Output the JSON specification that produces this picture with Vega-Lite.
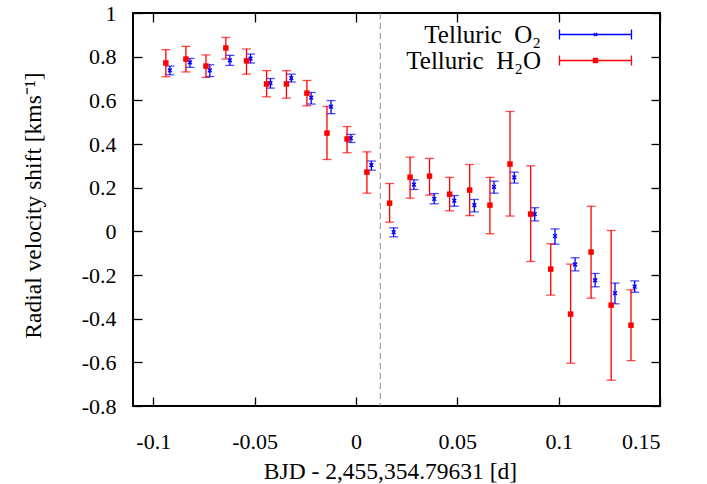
{
  "$schema": "https://vega.github.io/schema/vega-lite/v6.json",
  "width": 527,
  "height": 393,
  "autosize": {"type": "none"},
  "padding": {"left": 133, "top": 13, "right": 47, "bottom": 78},
  "config": {
    "font": "Liberation Serif",
    "view": {"stroke": "black", "strokeWidth": 2},
    "axis": {"labelFont": "Liberation Serif", "titleFont": "Liberation Serif", "labelFontSize": 22, "titleFontSize": 23.5, "titleFontWeight": "normal", "labelColor": "black", "titleColor": "black", "tickColor": "black", "tickWidth": 1.3, "tickSize": -9, "domain": false, "grid": false}
  },
  "datasets": {
    "pts": [
      {"s": "H2O", "x": -0.0938, "y": 0.771, "lo": 0.708, "hi": 0.832},
      {"s": "H2O", "x": -0.0839, "y": 0.789, "lo": 0.730, "hi": 0.847},
      {"s": "H2O", "x": -0.0740, "y": 0.757, "lo": 0.705, "hi": 0.808},
      {"s": "H2O", "x": -0.0642, "y": 0.840, "lo": 0.789, "hi": 0.888},
      {"s": "H2O", "x": -0.0540, "y": 0.781, "lo": 0.720, "hi": 0.835},
      {"s": "H2O", "x": -0.0441, "y": 0.675, "lo": 0.616, "hi": 0.736},
      {"s": "H2O", "x": -0.0343, "y": 0.675, "lo": 0.610, "hi": 0.736},
      {"s": "H2O", "x": -0.0242, "y": 0.633, "lo": 0.575, "hi": 0.691},
      {"s": "H2O", "x": -0.0143, "y": 0.450, "lo": 0.329, "hi": 0.572},
      {"s": "H2O", "x": -0.0044, "y": 0.423, "lo": 0.360, "hi": 0.480},
      {"s": "H2O", "x": 0.0054, "y": 0.271, "lo": 0.175, "hi": 0.364},
      {"s": "H2O", "x": 0.0166, "y": 0.129, "lo": 0.042, "hi": 0.219},
      {"s": "H2O", "x": 0.0267, "y": 0.248, "lo": 0.152, "hi": 0.340},
      {"s": "H2O", "x": 0.0363, "y": 0.253, "lo": 0.166, "hi": 0.334},
      {"s": "H2O", "x": 0.0462, "y": 0.170, "lo": 0.094, "hi": 0.247},
      {"s": "H2O", "x": 0.0561, "y": 0.189, "lo": 0.072, "hi": 0.306},
      {"s": "H2O", "x": 0.0661, "y": 0.120, "lo": -0.011, "hi": 0.247},
      {"s": "H2O", "x": 0.0760, "y": 0.308, "lo": 0.070, "hi": 0.549},
      {"s": "H2O", "x": 0.0862, "y": 0.079, "lo": -0.138, "hi": 0.300},
      {"s": "H2O", "x": 0.0961, "y": -0.173, "lo": -0.292, "hi": -0.057},
      {"s": "H2O", "x": 0.1059, "y": -0.379, "lo": -0.604, "hi": -0.150},
      {"s": "H2O", "x": 0.1160, "y": -0.095, "lo": -0.306, "hi": 0.115},
      {"s": "H2O", "x": 0.1259, "y": -0.338, "lo": -0.682, "hi": 0.004},
      {"s": "H2O", "x": 0.1357, "y": -0.430, "lo": -0.592, "hi": -0.268},
      {"s": "O2", "x": -0.0918, "y": 0.737, "lo": 0.717, "hi": 0.757},
      {"s": "O2", "x": -0.0819, "y": 0.774, "lo": 0.751, "hi": 0.792},
      {"s": "O2", "x": -0.0721, "y": 0.737, "lo": 0.709, "hi": 0.763},
      {"s": "O2", "x": -0.0622, "y": 0.783, "lo": 0.760, "hi": 0.806},
      {"s": "O2", "x": -0.0520, "y": 0.791, "lo": 0.771, "hi": 0.812},
      {"s": "O2", "x": -0.0422, "y": 0.679, "lo": 0.656, "hi": 0.700},
      {"s": "O2", "x": -0.0319, "y": 0.702, "lo": 0.684, "hi": 0.720},
      {"s": "O2", "x": -0.0221, "y": 0.612, "lo": 0.583, "hi": 0.636},
      {"s": "O2", "x": -0.0123, "y": 0.571, "lo": 0.539, "hi": 0.599},
      {"s": "O2", "x": -0.0025, "y": 0.427, "lo": 0.407, "hi": 0.444},
      {"s": "O2", "x": 0.0076, "y": 0.303, "lo": 0.280, "hi": 0.322},
      {"s": "O2", "x": 0.0186, "y": -0.004, "lo": -0.025, "hi": 0.016},
      {"s": "O2", "x": 0.0286, "y": 0.214, "lo": 0.192, "hi": 0.236},
      {"s": "O2", "x": 0.0386, "y": 0.149, "lo": 0.126, "hi": 0.173},
      {"s": "O2", "x": 0.0485, "y": 0.141, "lo": 0.115, "hi": 0.164},
      {"s": "O2", "x": 0.0584, "y": 0.120, "lo": 0.089, "hi": 0.146},
      {"s": "O2", "x": 0.0681, "y": 0.204, "lo": 0.175, "hi": 0.230},
      {"s": "O2", "x": 0.0781, "y": 0.247, "lo": 0.221, "hi": 0.271},
      {"s": "O2", "x": 0.0882, "y": 0.079, "lo": 0.048, "hi": 0.108},
      {"s": "O2", "x": 0.0982, "y": -0.022, "lo": -0.059, "hi": 0.011},
      {"s": "O2", "x": 0.1081, "y": -0.152, "lo": -0.181, "hi": -0.121},
      {"s": "O2", "x": 0.1180, "y": -0.224, "lo": -0.254, "hi": -0.193},
      {"s": "O2", "x": 0.1278, "y": -0.283, "lo": -0.332, "hi": -0.237},
      {"s": "O2", "x": 0.1375, "y": -0.253, "lo": -0.279, "hi": -0.227}
    ],
    "marker": [{"t": 0.012}]
  },
  "resolve": {"axis": {"x": "independent", "y": "independent"}},
  "layer": [
    {
      "data": {"name": "pts"},
      "mark": {"type": "errorbar", "ticks": {"size": 9}, "thickness": 1.3},
      "encoding": {
        "x": {"field": "x", "type": "quantitative", "scale": {"domain": [-0.11, 0.15], "nice": false, "zero": false},
          "axis": {"orient": "bottom", "values": [-0.1, -0.05, 0, 0.05, 0.1, 0.15], "labelPadding": 34, "titleX": 257, "titleY": 53, "title": "BJD - 2,455,354.79631 [d]",
            "labelExpr": "(datum.value < 0 ? '-' : '') + format(abs(datum.value), '~g')"}},
        "y": {"field": "lo", "type": "quantitative", "scale": {"domain": [-0.8, 1], "nice": false, "zero": false},
          "axis": {"orient": "left", "values": [-0.8, -0.6, -0.4, -0.2, 0, 0.2, 0.4, 0.6, 0.8, 1], "labelPadding": 26, "titleX": -88, "titleY": 192, "title": "Radial velocity shift [kms⁻¹]",
            "labelExpr": "(datum.value < 0 ? '-' : '') + format(abs(datum.value), '~g')"}},
        "y2": {"field": "hi"},
        "color": {"field": "s", "type": "nominal",
          "scale": {"domain": ["O2", "H2O"], "range": ["#0000ff", "#ff0000"]},
          "legend": {"orient": "none", "legendX": 450, "legendY": 9, "title": null, "padding": 0,
            "labelFont": "Liberation Serif", "labelFontSize": 25, "labelColor": "black", "labelAlign": "right", "labelOffset": -67,
            "labelExpr": "datum.value === 'O2' ? 'Telluric\u2002O₂' : 'Telluric\u2002H₂O'",
            "symbolSize": 324, "symbolStrokeWidth": 1.3, "rowPadding": -4, "symbolType": "M-4,0H4M-4,-0.55V0.55M4,-0.55V0.55",
            "encode": {"symbols": {"update": {"shape": {"signal": "datum.value === 'O2' ? 'M-4,0H4M-4,-0.55V0.55M4,-0.55V0.55M-0.18,-0.18L0.18,0.18M-0.18,0.18L0.18,-0.18' : 'M-4,0H4M-4,-0.55V0.55M4,-0.55V0.55M-0.22,-0.22H0.22V0.22H-0.22ZM-0.22,-0.08H0.22M-0.22,0.08H0.22'"}}}}}}
      }
    },
    {
      "data": {"name": "pts"},
      "transform": [{"filter": "datum.s === 'O2'"}],
      "mark": {"type": "point", "shape": "M-1,-1L1,1M-1,1L1,-1", "filled": false, "color": "#0000ff", "strokeWidth": 1.5, "size": 14, "opacity": 1},
      "encoding": {
        "x": {"field": "x", "type": "quantitative", "axis": null},
        "y": {"field": "y", "type": "quantitative", "axis": null}
      }
    },
    {
      "data": {"name": "pts"},
      "transform": [{"filter": "datum.s === 'H2O'"}],
      "mark": {"type": "square", "color": "#ff0000", "size": 30, "opacity": 1},
      "encoding": {
        "x": {"field": "x", "type": "quantitative", "axis": {"orient": "top", "values": [-0.1, -0.05, 0, 0.05, 0.1, 0.15], "labels": false, "title": null}},
        "y": {"field": "y", "type": "quantitative", "axis": {"orient": "right", "values": [-0.8, -0.6, -0.4, -0.2, 0, 0.2, 0.4, 0.6, 0.8, 1], "labels": false, "title": null}}
      }
    },
    {
      "data": {"name": "marker"},
      "mark": {"type": "rule", "color": "#888888", "strokeWidth": 1, "strokeDash": [6, 4]},
      "encoding": {
        "x": {"field": "t", "type": "quantitative", "axis": null}
      }
    }
  ]
}
